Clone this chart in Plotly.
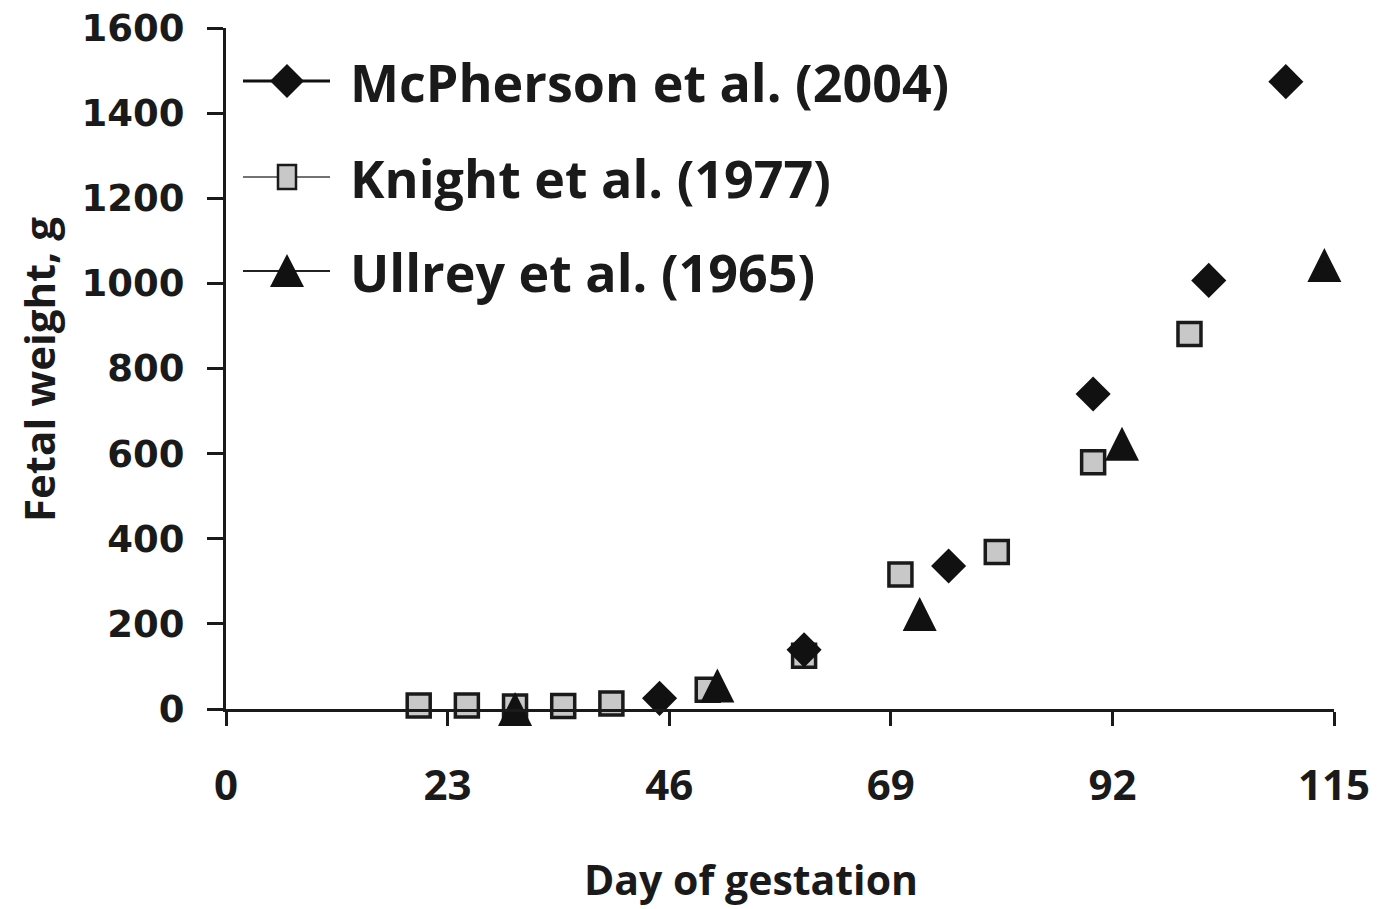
import plotly.graph_objects as go

# ---- data ----
mcp_day = [45, 60, 75, 90, 102, 110]
mcp_wt = [25, 139, 336, 740, 1007, 1474]

knight_day = [20, 25, 30, 35, 40, 50, 60, 70, 80, 90, 100]
knight_wt = [8, 8, 6, 7, 13, 45, 125, 316, 369, 580, 881]

ullrey_day = [30, 51, 72, 93, 114]
ullrey_wt = [0, 55, 223, 623, 1043]

series_names = ["McPherson et al. (2004)", "Knight et al. (1977)", "Ullrey et al. (1965)"]
x_ticks = [0, 23, 46, 69, 92, 115]
y_ticks = [0, 200, 400, 600, 800, 1000, 1200, 1400, 1600]
x_title = "Day of gestation"
y_title = "Fetal weight, g"

# the page body has an 8px default margin; size the figure to fill the window
OFF = 8
W, H = 1379 - OFF, 909 - OFF
ML, MR, MT, MB = 226 - OFF, 45, 28 - OFF, 200
PW, PH = W - ML - MR, H - MT - MB

TXT = "#1a1a1a"
FONT = "Open Sans"

fig = go.Figure()
fig.add_trace(go.Scatter(x=knight_day, y=knight_wt, mode="markers", name=series_names[1],
                         marker=dict(symbol="square", size=23, color="#c8c8c8",
                                     line=dict(color="#1a1a1a", width=3.5)),
                         cliponaxis=False, showlegend=False))
fig.add_trace(go.Scatter(x=mcp_day, y=mcp_wt, mode="markers", name=series_names[0],
                         marker=dict(symbol="diamond", size=27, color="#111111", line=dict(width=0)),
                         cliponaxis=False, showlegend=False))
fig.add_trace(go.Scatter(x=ullrey_day, y=ullrey_wt, mode="markers", name=series_names[2],
                         marker=dict(symbol="arrow-down", angle=180, size=34, standoff=17,
                                     color="#111111", line=dict(width=0)),
                         cliponaxis=False, showlegend=False))

# ---- manual legend (Excel style: long line with big marker) ----
def px_x(p):
    return (p - OFF - ML) / PW

def px_y(p):
    return (H + OFF - MB - p) / PH

rows = [81, 177, 271]
line_x0, line_x1, mark_x, text_x = 243, 330, 287, 348
line_widths = [3, 1.6, 1.8]
line_colors = ["#111111", "#444444", "#222222"]
marker_paths = [
    "M-17,0 L0,17 L17,0 L0,-17 Z",
    "M-9,-12 L9,-12 L9,12 L-9,12 Z",
    "M-17,-16 L17,-16 L0,17 Z",
]
marker_fill = ["#111111", "#c8c8c8", "#111111"]
marker_line = [dict(width=0), dict(color="#1a1a1a", width=2.5), dict(width=0)]

shapes = []
annotations = []
for i, name in enumerate(series_names):
    yy = px_y(rows[i])
    shapes.append(dict(type="line", xref="paper", yref="paper",
                       x0=px_x(line_x0), x1=px_x(line_x1), y0=yy, y1=yy,
                       line=dict(color=line_colors[i], width=line_widths[i])))
    shapes.append(dict(type="path", xref="paper", yref="paper",
                       xsizemode="pixel", ysizemode="pixel",
                       xanchor=px_x(mark_x), yanchor=yy,
                       path=marker_paths[i], fillcolor=marker_fill[i],
                       line=marker_line[i]))
    annotations.append(dict(xref="paper", yref="paper", x=px_x(text_x), y=yy,
                            xanchor="left", yanchor="middle", showarrow=False,
                            text=name,
                            font=dict(family=FONT, size=52, color=TXT, weight="bold")))

# axis titles placed like the reference
annotations.append(dict(xref="paper", yref="paper", x=px_x(751), y=px_y(879),
                        xanchor="center", yanchor="middle", showarrow=False,
                        text=x_title, font=dict(family=FONT, size=41, color=TXT, weight="bold")))
annotations.append(dict(xref="paper", yref="paper", x=px_x(38), y=px_y(370),
                        xanchor="center", yanchor="middle", showarrow=False, textangle=-90,
                        text=y_title, font=dict(family=FONT, size=42, color=TXT, weight="bold")))

fig.update_layout(
    width=W, height=H,
    margin=dict(l=ML, r=MR, t=MT, b=MB),
    paper_bgcolor="white", plot_bgcolor="white",
    showlegend=False,
    shapes=shapes,
    annotations=annotations,
    xaxis=dict(range=[0, 115], tickvals=x_ticks, ticktext=[str(v) for v in x_ticks],
               automargin=False, ticklabeloverflow="allow",
               ticks="outside", ticklen=14, tickwidth=3, tickcolor="#1a1a1a",
               showline=True, linewidth=3, linecolor="#1a1a1a",
               showgrid=False, zeroline=False,
               ticklabelstandoff=24,
               tickfont=dict(family=FONT, size=42, color=TXT, weight="bold")),
    yaxis=dict(range=[0, 1600], tickvals=y_ticks,
               automargin=False, ticklabeloverflow="allow",
               ticks="outside", ticklen=16, tickwidth=3, tickcolor="#1a1a1a",
               showline=True, linewidth=3, linecolor="#1a1a1a",
               showgrid=False, zeroline=False,
               ticklabelstandoff=15,
               tickfont=dict(family="DejaVu Sans", size=37, color=TXT, weight="bold")),
)

fig.write_html("out.html")
